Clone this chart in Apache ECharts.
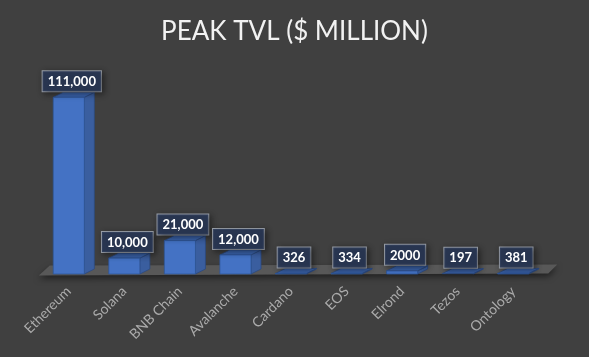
<!DOCTYPE html>
<html><head><meta charset="utf-8">
<script src="https://cdn.jsdelivr.net/npm/echarts@6/dist/echarts.min.js"></script>
<style>html,body{margin:0;padding:0;background:#404040}#c{width:589px;height:357px}</style>
</head><body><div id="c"></div>
<script>
var categories = ['Ethereum','Solana','BNB Chain','Avalanche','Cardano','EOS','Elrond','Tezos','Ontology'];
var values = [111000, 10000, 21000, 12000, 326, 334, 2000, 197, 381];
var valueLabels = ['111,000','10,000','21,000','12,000','326','334','2000','197','381'];
var titleText = 'PEAK TVL ($ MILLION)';

var chart = echarts.init(document.getElementById('c'));
var DX = 10, DY = -5;

function barItem(params, api) {
  var i = api.value(0), v = api.value(1);
  var base = api.coord([i, 0]);
  var top = api.coord([i, v]);
  var w = api.size([1, 0])[0] * 0.56;
  var x0 = base[0] - w / 2, x1 = base[0] + w / 2;
  var yb = base[1], yt = top[1];
  var kids = [];
  kids.push({type:'polygon', shape:{points:[[x1,yb],[x1+DX,yb+DY],[x1+DX,yt+DY],[x1,yt]]},
    style:{fill:'#3a5e9f', stroke:'#2c4a80', lineWidth:0.8}});
  kids.push({type:'polygon', shape:{points:[[x0,yt],[x1,yt],[x1+DX,yt+DY],[x0+DX,yt+DY]]},
    style:{fill:'#3b64ad', stroke:'#2c4a80', lineWidth:0.8}});
  if (yb - yt > 0.5) {
    kids.push({type:'rect', shape:{x:x0, y:yt, width:w, height:yb-yt},
      style:{fill:'#4472c4', stroke:'#2f5597', lineWidth:0.8}});
  }
  kids.push({type:'text', style:{
    text: valueLabels[params.dataIndex], x: base[0] + 3, y: yt + DY - 1,
    align:'center', verticalAlign:'bottom',
    font:'bold 13px Lato, "Open Sans", sans-serif', fill:'#ffffff',
    backgroundColor:'rgba(40,54,84,0.9)', borderColor:'#9ba1ab', borderWidth:1,
    padding:[4,5,3,5], shadowColor:'rgba(0,0,0,0.45)', shadowBlur:6, shadowOffsetX:2, shadowOffsetY:2
  }, z2: 10});
  return {type:'group', children:kids};
}

function floorItem(params, api) {
  var n = categories.length;
  var b = api.size([1, 0])[0];
  var p0 = api.coord([0, 0]);
  var p1 = api.coord([n - 1, 0]);
  var xl = p0[0] - b * 0.54, xr = p1[0] + b * 0.63;
  var yf = p0[1] + 1.5;
  return {type:'group', children:[
    {type:'polygon', shape:{points:[[xl,yf],[xr,yf-2],[xr+9,yf-11],[xl+11,yf-10]]},
     style:{fill:'#585858', shadowColor:'rgba(0,0,0,0.5)', shadowBlur:6, shadowOffsetY:3}}
  ]};
}

chart.setOption({
  backgroundColor:'#404040',
  animation:false,
  title:{text:titleText, left:'center', top:14,
    textStyle:{color:'#f2f2f2', fontSize:26, fontWeight:'normal', fontFamily:'Lato, "Open Sans", sans-serif'}},
  grid:{left:41, right:48, top:83, bottom:83},
  xAxis:{type:'category', data:categories,
    axisLine:{show:false}, axisTick:{show:false},
    axisLabel:{rotate:45, margin:15, color:'#ababab', fontSize:14, fontFamily:'Lato, "Open Sans", sans-serif', interval:0}},
  yAxis:{type:'value', min:0, max:120000, interval:20000, show:false, splitLine:{show:false}},
  series:[
    {type:'custom', renderItem:floorItem, data:[[0,0]], z:1, silent:true},
    {type:'custom', renderItem:barItem, z:2,
     data: values.map(function(v,i){return [i,v];})}
  ]
});
</script></body></html>
